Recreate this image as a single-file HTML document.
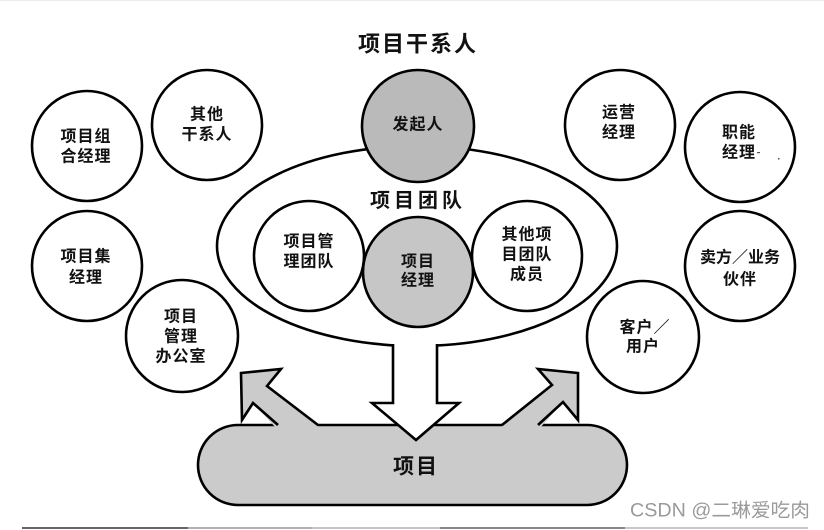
<!DOCTYPE html>
<html>
<head>
<meta charset="utf-8">
<style>
  html,body{margin:0;padding:0;background:#fff;}
  body{width:824px;height:530px;overflow:hidden;}
  svg{display:block;}
  text{font-family:"Liberation Sans","Noto Sans CJK SC",sans-serif;}
  .lb{font-size:16px;font-weight:bold;fill:#111;letter-spacing:1px;}
</style>
</head>
<body>
<svg width="824" height="530" viewBox="0 0 824 530" xmlns="http://www.w3.org/2000/svg">
  <rect x="0" y="0" width="824" height="1" fill="#ececec"/>

  <!-- Title -->
  <text x="418" y="44" text-anchor="middle" dominant-baseline="central" style="font-size:22px;font-weight:bold;letter-spacing:2px;fill:#111;">项目干系人</text>

  <!-- Big ellipse (project team) -->
  <ellipse cx="417" cy="246" rx="200" ry="100" fill="#fff" stroke="#000" stroke-width="2.6"/>

  <!-- Sponsor -->
  <circle cx="418" cy="126" r="56" fill="#bababa" stroke="#000" stroke-width="2.6"/>
  <text class="lb" x="418" y="125" text-anchor="middle" dominant-baseline="central">发起人</text>

  <text x="418" y="201" text-anchor="middle" dominant-baseline="central" style="font-size:20px;font-weight:bold;letter-spacing:4px;fill:#111;">项目团队</text>

  <!-- inner circles -->
  <circle cx="309" cy="256" r="55" fill="#fff" stroke="#000" stroke-width="2.6"/>
  <text class="lb" x="309" y="242" text-anchor="middle" dominant-baseline="central">项目管</text>
  <text class="lb" x="309" y="262" text-anchor="middle" dominant-baseline="central">理团队</text>

  <circle cx="527" cy="256" r="55" fill="#fff" stroke="#000" stroke-width="2.6"/>
  <text class="lb" x="527" y="235" text-anchor="middle" dominant-baseline="central">其他项</text>
  <text class="lb" x="527" y="255" text-anchor="middle" dominant-baseline="central">目团队</text>
  <text class="lb" x="527" y="275" text-anchor="middle" dominant-baseline="central">成员</text>

  <circle cx="418" cy="272" r="55" fill="#c6c6c6" stroke="#000" stroke-width="2.6"/>
  <text class="lb" x="418" y="262" text-anchor="middle" dominant-baseline="central">项目</text>
  <text class="lb" x="418" y="281" text-anchor="middle" dominant-baseline="central">经理</text>

  <!-- outer circles left -->
  <circle cx="87" cy="146" r="55" fill="#fff" stroke="#000" stroke-width="2.6"/>
  <text class="lb" x="86" y="137" text-anchor="middle" dominant-baseline="central">项目组</text>
  <text class="lb" x="86" y="157" text-anchor="middle" dominant-baseline="central">合经理</text>

  <circle cx="207" cy="125" r="55" fill="#fff" stroke="#000" stroke-width="2.6"/>
  <text class="lb" x="207" y="115" text-anchor="middle" dominant-baseline="central">其他</text>
  <text class="lb" x="207" y="135" text-anchor="middle" dominant-baseline="central">干系人</text>

  <circle cx="87" cy="266" r="55" fill="#fff" stroke="#000" stroke-width="2.6"/>
  <text class="lb" x="86" y="257" text-anchor="middle" dominant-baseline="central">项目集</text>
  <text class="lb" x="86" y="278" text-anchor="middle" dominant-baseline="central">经理</text>

  <circle cx="182" cy="336" r="56" fill="#fff" stroke="#000" stroke-width="2.6"/>
  <text class="lb" x="181" y="317" text-anchor="middle" dominant-baseline="central">项目</text>
  <text class="lb" x="181" y="337" text-anchor="middle" dominant-baseline="central">管理</text>
  <text class="lb" x="181" y="357" text-anchor="middle" dominant-baseline="central">办公室</text>

  <!-- outer circles right -->
  <circle cx="620" cy="125" r="55" fill="#fff" stroke="#000" stroke-width="2.6"/>
  <text class="lb" x="619" y="113" text-anchor="middle" dominant-baseline="central">运营</text>
  <text class="lb" x="619" y="133" text-anchor="middle" dominant-baseline="central">经理</text>

  <circle cx="740" cy="147" r="55" fill="#fff" stroke="#000" stroke-width="2.6"/>
  <text class="lb" x="739" y="133" text-anchor="middle" dominant-baseline="central">职能</text>
  <text class="lb" x="739" y="153" text-anchor="middle" dominant-baseline="central">经理</text>
  <rect x="757" y="152" width="3" height="1.2" fill="#555"/>
  <rect x="778" y="158" width="1.5" height="1.5" fill="#555"/>

  <circle cx="740" cy="266" r="55" fill="#fff" stroke="#000" stroke-width="2.6"/>
  <text class="lb" x="740" y="258" text-anchor="middle" dominant-baseline="central" style="letter-spacing:0px;">卖方／业务</text>
  <text class="lb" x="740" y="280" text-anchor="middle" dominant-baseline="central">伙伴</text>

  <circle cx="643" cy="337" r="56" fill="#fff" stroke="#000" stroke-width="2.6"/>
  <text class="lb" x="645" y="328" text-anchor="middle" dominant-baseline="central">客户／</text>
  <text class="lb" x="643" y="347" text-anchor="middle" dominant-baseline="central">用户</text>

  <!-- Project pill -->
  <rect x="198" y="425" width="429" height="80" rx="40" ry="40" fill="#cbcbcb" stroke="#000" stroke-width="2.6"/>

  <!-- left diagonal arrow -->
  <polygon points="241,373 281,369 267,386 320,428 276,428 253,403 242,420" fill="#cbcbcb"/>
  <polyline points="318,425 267,386 281,369 241,373 242,420 253,403 278,425" fill="none" stroke="#000" stroke-width="2.6" stroke-linejoin="miter"/>

  <!-- right diagonal arrow -->
  <polygon points="578,373 538,369 552,385 500,428 540,428 563,402 578,420" fill="#cbcbcb"/>
  <polyline points="502,425 552,385 538,369 578,373 578,420 563,402 538,425" fill="none" stroke="#000" stroke-width="2.6" stroke-linejoin="miter"/>

  <!-- down arrow -->
  <polygon points="394,341 394,403 372,403 416,440 459,403 436,403 436,341" fill="#fff"/>
  <polyline points="393,344 393,403 372,403 416,440 459,403 437,403 437,344" fill="none" stroke="#000" stroke-width="2.6" stroke-linejoin="miter"/>

  <text x="416" y="467" text-anchor="middle" dominant-baseline="central" style="font-size:21px;font-weight:bold;letter-spacing:2px;fill:#111;">项目</text>

  <!-- watermark -->
  <text x="630" y="511" dominant-baseline="central" textLength="180" lengthAdjust="spacingAndGlyphs" style="font-size:19px;fill:#9a9a9a;">CSDN @二琳爱吃肉</text>

  <!-- bottom border -->
  <rect x="22" y="527" width="166" height="2" fill="#666"/>
  <rect x="188" y="527" width="124" height="2" fill="#b0b0b0"/>
  <rect x="312" y="527" width="128" height="2" fill="#c4c4c4"/>
  <rect x="440" y="527" width="185" height="2" fill="#888"/>
  <rect x="625" y="527" width="183" height="2" fill="#c8c8c8"/>
</svg>
</body>
</html>
